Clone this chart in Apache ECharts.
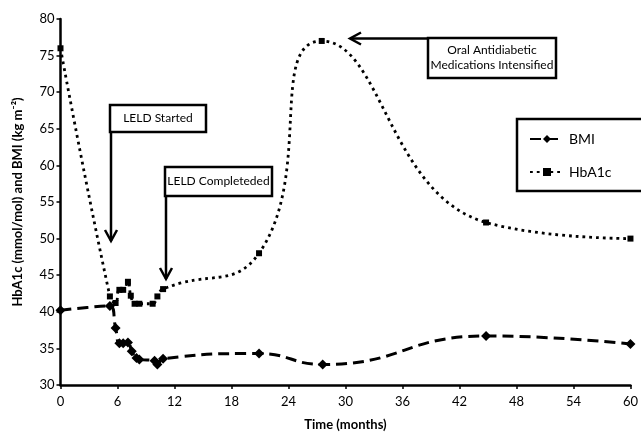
<!DOCTYPE html>
<html>
<head>
<meta charset="utf-8">
<script src="https://cdn.jsdelivr.net/npm/echarts@6/dist/echarts.min.js"></script>
<style>
html,body{margin:0;padding:0;background:#fff;}
#chart{width:641px;height:436px;}
</style>
</head>
<body>
<div id="chart"></div>
<script>
// Data
var hba1cMonths = [0, 5.2, 5.8, 6.2, 6.6, 7.1, 7.4, 7.8, 8.3, 9.7, 10.2, 10.8, 20.9, 27.5, 44.8, 60];
var hba1cValues = [76, 42.1, 41.2, 43.0, 43.0, 44.1, 42.2, 41.1, 41.1, 41.1, 42.1, 43.1, 48.0, 77.0, 52.2, 50.0];
var bmiMonths = [0, 5.2, 5.8, 6.2, 6.6, 7.1, 7.5, 8.0, 8.3, 9.9, 10.2, 10.8, 20.9, 27.6, 44.8, 60];
var bmiValues = [40.2, 40.8, 37.8, 35.7, 35.7, 35.8, 34.6, 33.7, 33.5, 33.3, 32.8, 33.6, 34.3, 32.8, 36.7, 35.6];
var seriesNames = ['BMI', 'HbA1c'];
var annotations = ['LELD Started', 'LELD Completeded', 'Oral Antidiabetic\nMedications Intensified'];

function pairs(xs, ys) { return xs.map(function (x, i) { return [x, ys[i]]; }); }

var FONT = 'Lato';
var chart = echarts.init(document.getElementById('chart'));

function box(x, y, w, h, text) {
  return [
    { type: 'rect', shape: { x: x, y: y, width: w, height: h },
      style: { fill: '#fff', stroke: '#000', lineWidth: 2.5 }, z: 100 },
    { type: 'text', x: x + w / 2, y: y + h / 2,
      style: { text: text, fill: '#000', font: '12px ' + FONT, align: 'center', verticalAlign: 'middle', lineHeight: 15 }, z: 101 }
  ];
}
function line(points) {
  return { type: 'polyline', shape: { points: points }, style: { stroke: '#000', lineWidth: 2.5, fill: null }, z: 100 };
}

var graphics = [];
graphics = graphics.concat(box(110, 105, 96, 27, annotations[0]));
graphics.push(line([[111, 131], [111, 241]]));
graphics.push(line([[105, 230], [111, 241], [117, 230]]));
graphics = graphics.concat(box(165, 167, 107, 29, annotations[1]));
graphics.push(line([[166, 196], [166, 279]]));
graphics.push(line([[160, 268], [166, 279], [172, 268]]));
graphics = graphics.concat(box(428, 38, 128, 40, annotations[2]));
graphics.push(line([[428, 38.5], [350, 38.5]]));
graphics.push(line([[361, 32.5], [350, 38.5], [361, 44.5]]));

chart.setOption({
  backgroundColor: '#fff',
  animation: false,
  textStyle: { fontFamily: FONT },
  grid: { left: 60.5, right: 6.7, top: 19, bottom: 45, containLabel: false },
  legend: {
    orient: 'vertical', left: 517, top: 119,
    data: seriesNames,
    borderColor: '#000', borderWidth: 2.5, padding: [13, 42, 12, 12],
    itemGap: 19, itemWidth: 34, itemHeight: 10,
    textStyle: { fontSize: 14, color: '#000', fontFamily: FONT }
  },
  xAxis: {
    type: 'value', min: 0, max: 60, interval: 6,
    name: 'Time (months)', nameLocation: 'middle', nameGap: 33,
    nameTextStyle: { fontSize: 13, fontWeight: 'bold', color: '#000', fontFamily: FONT },
    axisLine: { lineStyle: { color: '#000', width: 2.5 } },
    axisTick: { length: 4, lineStyle: { color: '#000', width: 1.5 } },
    axisLabel: { fontSize: 13, color: '#000', margin: 10, fontFamily: FONT },
    splitLine: { show: false }
  },
  yAxis: {
    type: 'value', min: 30, max: 80, interval: 5,
    name: 'HbA1c (mmol/mol) and BMI (kg m\u207B\u00B2)', nameLocation: 'middle', nameGap: 36,
    nameTextStyle: { fontSize: 13, fontWeight: 'bold', color: '#000', fontFamily: FONT },
    axisLine: { show: true, lineStyle: { color: '#000', width: 2.5 } },
    axisTick: { show: true, length: 4, lineStyle: { color: '#000', width: 1.5 } },
    axisLabel: { fontSize: 13, color: '#000', margin: 6, fontFamily: FONT },
    splitLine: { show: false }
  },
  series: [
    {
      name: seriesNames[0], type: 'line', smooth: 0.5,
      data: pairs(bmiMonths, bmiValues),
      symbol: 'diamond', symbolSize: 10,
      itemStyle: { color: '#000' },
      lineStyle: { color: '#000', width: 3, type: [11, 6] },
      z: 3
    },
    {
      name: seriesNames[1], type: 'line', smooth: 0.5,
      data: pairs(hba1cMonths, hba1cValues),
      symbol: 'rect', symbolSize: 6,
      itemStyle: { color: '#000' },
      lineStyle: { color: '#000', width: 2.8, type: [2.8, 4] },
      z: 2
    }
  ],
  graphic: graphics
});
</script>
</body>
</html>
